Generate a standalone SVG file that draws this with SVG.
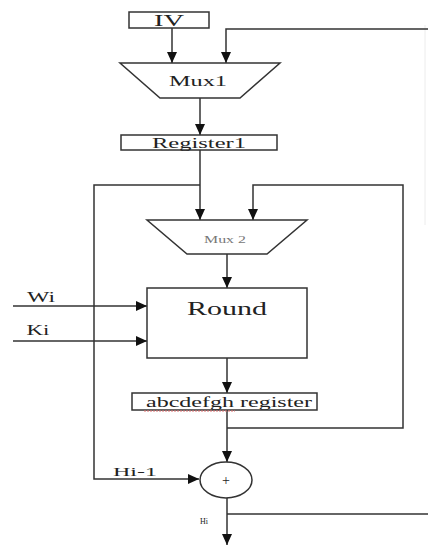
<svg xmlns="http://www.w3.org/2000/svg" width="428" height="546" viewBox="0 0 428 546">
<style>
.ln{fill:none;stroke:#333;stroke-width:1.5}
.bx{fill:#fff;stroke:#333;stroke-width:1.5}
.t{font-family:"Liberation Serif","Times New Roman",serif;fill:#222;text-anchor:middle}
</style>
<defs>
<marker id="ah" markerUnits="userSpaceOnUse" markerWidth="11" markerHeight="10" refX="11" refY="5" orient="auto">
<path d="M0,0 L11,5 L0,10 z" fill="#111"/>
</marker>
</defs>
<rect width="428" height="546" fill="#fff"/>
<g id="connectors">
<line x1="425" y1="25" x2="425" y2="225" stroke="#ececec" stroke-width="1"/>
<line class="ln" x1="172" y1="28" x2="172" y2="63" marker-end="url(#ah)"/>
<path class="ln" d="M428,29 H226 V63" marker-end="url(#ah)"/>
<line class="ln" x1="200" y1="98" x2="200" y2="135" marker-end="url(#ah)"/>
<line class="ln" x1="200" y1="150" x2="200" y2="220" marker-end="url(#ah)"/>
<path class="ln" d="M200,185 H94 V479 H199" marker-end="url(#ah)"/>
<path class="ln" d="M227,428 H403 V185 H253 V220" marker-end="url(#ah)"/>
<line class="ln" x1="227" y1="254" x2="227" y2="288" marker-end="url(#ah)"/>
<line class="ln" x1="13" y1="306" x2="147" y2="306" marker-end="url(#ah)"/>
<line class="ln" x1="13" y1="341" x2="147" y2="341" marker-end="url(#ah)"/>
<line class="ln" x1="227" y1="358" x2="227" y2="393" marker-end="url(#ah)"/>
<line class="ln" x1="227" y1="410" x2="227" y2="462" marker-end="url(#ah)"/>
<line class="ln" x1="227" y1="498" x2="227" y2="545" marker-end="url(#ah)"/>
<line class="ln" x1="227" y1="514" x2="428" y2="514"/>
</g>
<g id="iv">
<rect class="bx" x="129" y="12" width="80" height="16"/>
<text class="t" x="169" y="26" font-size="16" textLength="30" lengthAdjust="spacingAndGlyphs">IV</text>
</g>
<g id="mux1">
<path class="bx" d="M120,63 H280 L240,98 H160 Z"/>
<text class="t" x="198" y="86" font-size="14" textLength="58" lengthAdjust="spacingAndGlyphs">Mux1</text>
</g>
<g id="register1">
<rect class="bx" x="121" y="135" width="156" height="15"/>
<text class="t" x="199" y="148" font-size="14" textLength="94" lengthAdjust="spacingAndGlyphs">Register1</text>
</g>
<g id="mux2">
<path class="bx" d="M147,220 H307 L267,254 H187 Z"/>
<text class="t" x="225" y="243" font-size="11" textLength="42" lengthAdjust="spacingAndGlyphs" style="fill:#777">Mux 2</text>
</g>
<g id="round">
<rect class="bx" x="147" y="288" width="160" height="70"/>
<text class="t" x="227" y="315" font-size="19" textLength="80" lengthAdjust="spacingAndGlyphs">Round</text>
</g>
<g id="wi"><text class="t" x="41" y="302" font-size="14" textLength="28" lengthAdjust="spacingAndGlyphs">Wi</text></g>
<g id="ki"><text class="t" x="38" y="335" font-size="14" textLength="23" lengthAdjust="spacingAndGlyphs">Ki</text></g>
<g id="abcdefgh-register">
<rect class="bx" x="132" y="393" width="185" height="17"/>
<path d="M144,411 H235" stroke="#e07070" stroke-width="1" stroke-dasharray="2,1" fill="none"/>
<text class="t" x="229" y="407" font-size="14" textLength="166" lengthAdjust="spacingAndGlyphs">abcdefgh register</text>
</g>
<g id="adder">
<ellipse class="bx" cx="226" cy="480" rx="26" ry="18"/>
<text class="t" x="226" y="485" font-size="14">+</text>
</g>
<g id="hi-1"><text class="t" x="135" y="476" font-size="13" textLength="44" lengthAdjust="spacingAndGlyphs">Hi-1</text></g>
<g id="hi"><text class="t" x="204" y="524" font-size="8">Hi</text></g>
</svg>
